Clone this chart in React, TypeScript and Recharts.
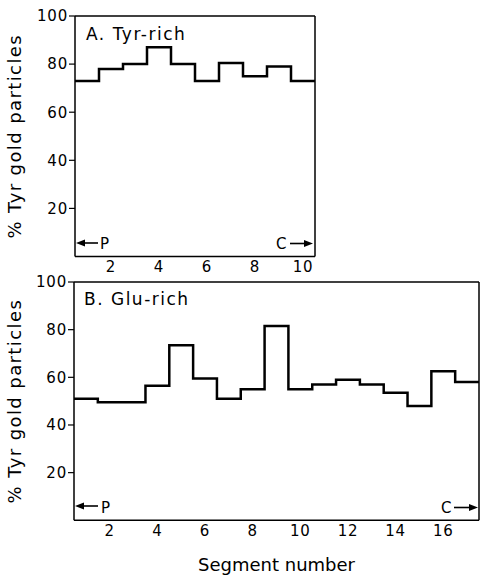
import { LineChart, Line, XAxis, YAxis, ReferenceLine } from 'recharts'

// segment numbers and % Tyr gold particles
const segmentsA = [1, 2, 3, 4, 5, 6, 7, 8, 9, 10]
const valuesA = [73, 78, 80, 87, 80, 73, 80.5, 75, 79, 73]

const segmentsB = [1, 2, 3, 4, 5, 6, 7, 8, 9, 10, 11, 12, 13, 14, 15, 16, 17]
const valuesB = [51, 49.5, 49.5, 56.5, 73.5, 59.5, 51, 55, 81.5, 55, 57, 59, 57, 53.5, 48, 62.5, 58]

const yTicks = [20, 40, 60, 80, 100]
const xTicksA = [2, 4, 6, 8, 10]
const xTicksB = [2, 4, 6, 8, 10, 12, 14, 16]

const FONT = '"DejaVu Sans", sans-serif'
const yLabel = '% Tyr gold particles'

// each segment is drawn as a flat step spanning [n - 0.5, n + 0.5]
function toSteps(segments: number[], values: number[]) {
  const rows = segments.map((s, i) => ({ x: s - 0.5, y: values[i] }))
  rows.push({ x: segments[segments.length - 1] + 0.5, y: values[values.length - 1] })
  return rows
}

const tickStyle = { fill: '#000', fontSize: 15, fontFamily: FONT, letterSpacing: 0.8 }
const axisStroke = { stroke: '#000', strokeWidth: 1.5 }

function Panel({
  segments,
  values,
  xTicks,
  width,
  height,
  margin,
  yWidth,
  xHeight,
  showXLabel,
}: {
  segments: number[]
  values: number[]
  xTicks: number[]
  width: number
  height: number
  margin: { top: number; right: number; left: number; bottom: number }
  yWidth: number
  xHeight: number
  showXLabel?: boolean
}) {
  const data = toSteps(segments, values)
  const xMax = segments[segments.length - 1] + 0.5
  return (
    <LineChart width={width} height={height} data={data} margin={margin}>
      <XAxis
        dataKey="x"
        type="number"
        domain={[0.5, xMax]}
        ticks={xTicks}
        allowDataOverflow
        tickLine={false}
        tickSize={4}
        tickMargin={1}
        axisLine={axisStroke}
        tick={tickStyle}
        height={xHeight}
        label={
          showXLabel
            ? {
                value: 'Segment number',
                position: 'insideBottom',
                offset: 7,
                style: { fill: '#000', fontSize: 18, fontFamily: FONT },
              }
            : undefined
        }
      />
      <YAxis
        type="number"
        domain={[0, 100]}
        ticks={yTicks}
        tickSize={6}
        tickMargin={1}
        tickLine={{ stroke: '#000', strokeWidth: 1.2 }}
        axisLine={axisStroke}
        tick={tickStyle}
        width={yWidth}
        label={{
          value: yLabel,
          angle: -90,
          position: 'insideLeft',
          offset: 15,
          style: { fill: '#000', fontSize: 18, fontFamily: FONT, letterSpacing: 1.4, textAnchor: 'middle' },
        }}
      />
      <ReferenceLine y={100} stroke="#000" strokeWidth={1.5} />
      <ReferenceLine x={xMax} stroke="#000" strokeWidth={1.5} />
      <Line
        type="stepAfter"
        dataKey="y"
        stroke="#000"
        strokeWidth={2.5}
        dot={false}
        isAnimationActive={false}
      />
    </LineChart>
  )
}

function Arrow({ from, to, y }: { from: number; to: number; y: number }) {
  const dir = to > from ? 1 : -1
  const base = to - dir * 9
  return (
    <g>
      <line x1={from} y1={y} x2={base} y2={y} stroke="#000" strokeWidth={1.6} />
      <polygon points={`${to},${y} ${base},${y - 3.5} ${base},${y + 3.5}`} fill="#000" />
    </g>
  )
}

export default function App() {
  const note = { fill: '#000', fontFamily: FONT, fontSize: 15 }
  return (
    <div style={{ position: 'absolute', left: 0, top: 0, width: 481, height: 578, background: '#fff' }}>
      <div style={{ position: 'absolute', left: 0, top: 0 }}>
        <Panel
          segments={segmentsA}
          values={valuesA}
          xTicks={xTicksA}
          width={330}
          height={290}
          margin={{ top: 16, right: 15, left: 0, bottom: 0 }}
          yWidth={75}
          xHeight={33.5}
        />
      </div>
      <div style={{ position: 'absolute', left: 0, top: 270 }}>
        <Panel
          segments={segmentsB}
          values={valuesB}
          xTicks={xTicksB}
          width={481}
          height={308}
          margin={{ top: 12, right: 2, left: 0, bottom: 0 }}
          yWidth={74}
          xHeight={57.7}
          showXLabel
        />
      </div>
      <svg
        width={481}
        height={578}
        style={{ position: 'absolute', left: 0, top: 0, pointerEvents: 'none' }}
      >
        <text x={86} y={39.5} fill="#000" fontFamily={FONT} fontSize={17} letterSpacing={1.5}>
          A. Tyr-rich
        </text>
        <text x={84} y={305} fill="#000" fontFamily={FONT} fontSize={17} letterSpacing={1.5}>
          B. Glu-rich
        </text>
        <Arrow from={98} to={76} y={243} />
        <text x={100} y={248.5} {...note}>P</text>
        <text x={276} y={248.5} {...note}>C</text>
        <Arrow from={290} to={313} y={243.5} />
        <Arrow from={98} to={75} y={506} />
        <text x={101} y={512.5} {...note}>P</text>
        <text x={441} y={513} {...note}>C</text>
        <Arrow from={454} to={478} y={507.5} />
      </svg>
    </div>
  )
}
